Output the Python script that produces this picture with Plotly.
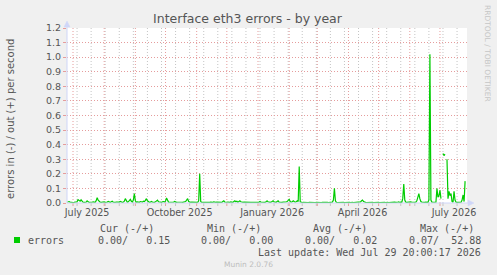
import pandas as pd
import plotly.graph_objects as go

# ---------------- data ----------------
start_day = "2025-06-25"          # first sample (left edge of the plot)
span_days = 397.9                 # visible time span
nan = float("nan")

# daily "errors out (+)" values, starting at start_day
errors_out = [
    0.005, 0.008, 0.010, 0.006, 0.004, 0.005, 0.003, 0.004, 0.006, 0.005,   # 0
    0.008, 0.023, 0.015, 0.012, 0.022, 0.010, 0.005, 0.004, 0.006, 0.005,   # 10
    0.015, 0.006, 0.004, 0.005, 0.003, 0.005, 0.008, 0.006, 0.004, 0.015,   # 20
    0.037, 0.020, 0.008, 0.005, 0.004, 0.006, 0.010, 0.008, 0.005, 0.004,   # 30
    0.006, 0.010, 0.005, 0.004, 0.008, 0.012, 0.006, 0.004, 0.005, 0.007,   # 40
    0.005, 0.004, 0.006, 0.010, 0.006, 0.004, 0.005, 0.012, 0.030, 0.010,   # 50
    0.005, 0.008, 0.015, 0.025, 0.012, 0.006, 0.020, 0.065, 0.015, 0.005,   # 60
    0.008, 0.006, 0.005, 0.010, 0.008, 0.006, 0.012, 0.010, 0.018, 0.030,   # 70
    0.015, 0.008, 0.005, 0.006, 0.010, 0.006, 0.004, 0.005, 0.008, 0.012,   # 80
    0.020, 0.008, 0.005, 0.006, 0.004, 0.008, 0.010, 0.006, 0.012, 0.035,   # 90
    0.012, 0.006, 0.005, 0.004, 0.008, 0.006, 0.005, 0.010, 0.006, 0.004,   # 100
    0.005, 0.006, 0.004, 0.008, 0.005, 0.004, 0.006, 0.005, 0.010, 0.020,   # 110
    0.030, 0.010, 0.005, 0.004, 0.006, 0.005, 0.004, 0.003, 0.005, 0.004,   # 120
    0.005, 0.015, 0.200, 0.010, 0.004, 0.005, 0.003, 0.004, 0.005, 0.004,   # 130
    0.003, 0.005, 0.004, 0.006, 0.004, 0.005, 0.008, 0.005, 0.004, 0.006,   # 140
    0.005, 0.004, 0.008, 0.005, 0.004, 0.010, 0.015, 0.006, 0.004, 0.005,   # 150
    0.006, 0.004, 0.005, 0.008, 0.005, 0.004, 0.010, 0.015, 0.008, 0.012,   # 160
    0.006, 0.010, 0.015, 0.008, 0.005, 0.004, 0.006, 0.005, 0.004, 0.003,   # 170
    0.004, 0.005, 0.003, 0.004, 0.005, 0.004, 0.003, 0.005, 0.004, 0.005,   # 180
    0.004, 0.006, 0.010, 0.005, 0.004, 0.006, 0.005, 0.004, 0.008, 0.015,   # 190
    0.008, 0.005, 0.004, 0.006, 0.010, 0.015, 0.008, 0.005, 0.004, 0.010,   # 200
    0.015, 0.006, 0.004, 0.005, 0.004, 0.006, 0.005, 0.004, 0.008, 0.010,   # 210
    0.015, 0.025, 0.010, 0.006, 0.008, 0.015, 0.010, 0.006, 0.008, 0.015,   # 220
    0.010, 0.250, 0.008, 0.004, 0.003, 0.004, 0.003, 0.004, 0.003, 0.004,   # 230
    0.003, 0.004, 0.003, 0.004, 0.005, 0.003, 0.004, 0.003, 0.004, 0.003,   # 240
    0.004, 0.003, 0.004, 0.003, 0.004, 0.005, 0.003, 0.004, 0.003, 0.004,   # 250
    0.003, 0.004, 0.005, 0.004, 0.006, 0.020, 0.100, 0.015, 0.004, 0.003,   # 260
    0.004, 0.003, 0.004, 0.003, 0.004, 0.005, 0.003, 0.004, 0.003, 0.004,   # 270
    0.003, 0.004, 0.003, 0.005, 0.004, 0.003, 0.004, 0.006, 0.004, 0.003,   # 280
    0.004, 0.005, 0.008, 0.015, 0.020, 0.010, 0.005, 0.004, 0.003, 0.004,   # 290
    0.003, 0.004, 0.005, 0.003, 0.004, 0.003, 0.004, 0.005, 0.004, 0.003,   # 300
    0.004, 0.003, 0.004, 0.006, 0.004, 0.003, 0.004, 0.003, 0.005, 0.004,   # 310
    0.003, 0.004, 0.003, 0.004, 0.008, 0.010, 0.006, 0.004, 0.003, 0.005,   # 320
    0.008, 0.004, 0.006, 0.005, 0.030, 0.130, 0.020, 0.006, 0.004, 0.005,   # 330
    0.006, 0.012, 0.008, 0.005, 0.004, 0.003, 0.004, 0.006, 0.015, 0.035,   # 340
    0.064, 0.030, 0.010, 0.006, 0.004, 0.005, 0.004, 0.006, 0.004, 0.005,   # 350
    0.020, 1.020, 0.020, 0.006, 0.005, 0.007, 0.005, 0.006, 0.100, 0.040,   # 360
    0.050, 0.087, 0.030, nan,   0.340, 0.325, 0.335, nan,   0.300, 0.030,   # 370
    0.080, 0.050, 0.065, 0.010, 0.005, 0.080, 0.020, 0.005, 0.004, 0.005,   # 380
    0.004, 0.006, 0.005, 0.020, 0.055, 0.010, 0.150,                        # 390
]

tick_dates = ["2025-07-15", "2025-10-15", "2026-01-15", "2026-04-15", "2026-07-15"]
tick_text = ["July 2025", "October 2025", "January 2026", "April 2026", "July 2026"]
month_grid = ["2025-07-01", "2025-08-01", "2025-09-01", "2025-10-01", "2025-11-01",
              "2025-12-01", "2026-01-01", "2026-02-01", "2026-03-01", "2026-04-01",
              "2026-05-01", "2026-06-01", "2026-07-01"]
minor_grid = [d.strftime("%Y-%m-%d") for d in pd.date_range("2025-07-05", "2026-07-25", freq="14D")]

legend_head = ["Cur (-/+)", "Min (-/+)", "Avg (-/+)", "Max (-/+)"]
legend_vals = ["0.00/   0.15", "0.00/   0.00", "0.00/   0.02", "0.07/  52.88"]
series_name = "errors"
last_update = "Last update: Wed Jul 29 20:00:17 2026"

# ---------------- layout helpers ----------------
W, H = 497, 275
L, R, T, B = 67, 30, 28, 72
PW, PH = W - L - R, H - T - B


def fx(x):
    return (x - L) / PW


def fy(y):
    return (H - B - y) / PH


GREEN = "#00CC00"
TXT = "#555555"
AXIS = "#CFD6F8"
MGRID = "#E59C9C"
GRID = "#C4C4C4"
SANS = "DejaVu Sans"
MONO = "DejaVu Sans Mono"

start = pd.Timestamp(start_day)
dates = pd.date_range(start, periods=len(errors_out), freq="D")

fig = go.Figure()
fig.add_trace(go.Scatter(x=dates, y=errors_out, mode="lines",
                         line=dict(color=GREEN, width=1.2), connectgaps=False,
                         name=series_name, showlegend=False, hoverinfo="skip"))

shapes = []
for d in minor_grid:
    shapes.append(dict(type="line", xref="x", yref="paper", x0=d, x1=d, y0=0, y1=1,
                       line=dict(color=GRID, width=1, dash="1px,2px"), layer="below"))
    shapes.append(dict(type="line", xref="x", yref="paper", x0=d, x1=d, y0=fy(206), y1=fy(203),
                       line=dict(color=GRID, width=1), layer="above"))
for d in month_grid:
    shapes.append(dict(type="line", xref="x", yref="paper", x0=d, x1=d, y0=0, y1=1,
                       line=dict(color=MGRID, width=1, dash="1px,2px"), layer="below"))
    shapes.append(dict(type="line", xref="x", yref="paper", x0=d, x1=d, y0=fy(206), y1=fy(203),
                       line=dict(color=MGRID, width=1), layer="above"))

# axes lines and arrows
shapes.append(dict(type="line", xref="paper", yref="paper", x0=fx(67), x1=fx(469), y0=fy(203), y1=fy(203),
                   line=dict(color=AXIS, width=1)))
shapes.append(dict(type="line", xref="paper", yref="paper", x0=fx(67), x1=fx(67), y0=fy(203), y1=fy(23),
                   line=dict(color=AXIS, width=1)))
shapes.append(dict(type="path", xref="paper", yref="paper",
                   path=f"M {fx(468)} {fy(200)} L {fx(474)} {fy(203)} L {fx(468)} {fy(206)} Z",
                   fillcolor=AXIS, line=dict(color=AXIS, width=0.5)))
shapes.append(dict(type="path", xref="paper", yref="paper",
                   path=f"M {fx(64)} {fy(27)} L {fx(67)} {fy(21)} L {fx(70)} {fy(27)} Z",
                   fillcolor=AXIS, line=dict(color=AXIS, width=0.5)))
# legend colour box
shapes.append(dict(type="rect", xref="paper", yref="paper", x0=fx(14), x1=fx(20), y0=fy(243), y1=fy(237),
                   fillcolor=GREEN, line=dict(width=0)))

ann = []


def text(s, x, y, anchor="left", size=10, family=MONO, color=TXT, angle=0):
    ann.append(dict(text=s.replace(" ", "\u00a0"), x=fx(x), y=fy(y), xref="paper", yref="paper",
                    xanchor=anchor, yanchor="middle", showarrow=False, textangle=angle,
                    font=dict(family=family, size=size, color=color)))


text("errors in (-) / out (+) per second", 10, 119, anchor="center", size=10, family=SANS, angle=-90)
text("RRDTOOL / TOBI OETIKER", 488, 53, anchor="center", size=7.5, family=SANS, color="#C6C6C6", angle=90)
head_right = [156, 263, 369, 476]
val_right = [172, 275, 379, 483]
for s, xr in zip(legend_head, head_right):
    text(s, xr, 228, anchor="right")
for s, xr in zip(legend_vals, val_right):
    text(s, xr, 240, anchor="right")
text(series_name, 26, 240)
text(last_update, 483, 252, anchor="right")
text("Munin 2.0.76", 248, 264, anchor="center", size=7.5, family=SANS, color="#BDBDBD")

fig.update_layout(
    width=W, height=H, margin=dict(l=L, r=R, t=T, b=B, pad=0),
    paper_bgcolor="#F0F0F0", plot_bgcolor="#FFFFFF",
    title=dict(text="Interface eth3 errors - by year", x=247.5 / W, xref="container",
               xanchor="center", y=1 - 19 / H, yanchor="middle",
               font=dict(family=SANS, size=12.5, color=TXT)),
    shapes=shapes, annotations=ann, showlegend=False,
    xaxis=dict(type="date", range=[start, start + pd.Timedelta(days=span_days)],
               tickmode="array", tickvals=tick_dates, ticktext=tick_text,
               showgrid=False, zeroline=False, showline=False, ticks="",
               ticklabelstandoff=2,
               tickfont=dict(family=SANS, size=9.6, color=TXT)),
    yaxis=dict(range=[0, 1.2], tickmode="linear", tick0=0, dtick=0.1, tickformat=".1f",
               showgrid=True, gridcolor=MGRID, griddash="1px,2px", gridwidth=1,
               zeroline=False, showline=False, ticks="outside", ticklen=3, tickcolor=MGRID,
               tickfont=dict(family=SANS, size=9.5, color=TXT)),
)

fig.write_html("out.html")
